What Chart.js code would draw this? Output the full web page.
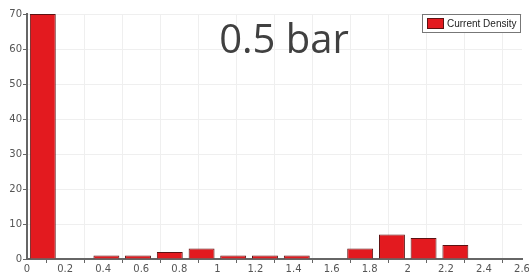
<!DOCTYPE html>
<html lang="en">
<head>
  <meta charset="UTF-8">
  <title>0.5 bar</title>
  <script src="https://cdn.jsdelivr.net/npm/chart.js"></script>
  <style>
    html, body { margin: 0; background: #fff; }
    #wrap { width: 529px; height: 275px; }
  </style>
</head>
<body>
  <div id="wrap"><canvas id="histCanvas"></canvas></div>
  <script>
    const chartTitle = '0.5 bar';
    const seriesLabel = 'Current Density';
    // bin centres (bin width 1/6)
    const binCenters = [0.083, 0.25, 0.417, 0.583, 0.75, 0.917, 1.083, 1.25, 1.417, 1.583, 1.75, 1.917, 2.083, 2.25, 2.417, 2.583];
    const counts     = [70, 0, 1, 1, 2, 3, 1, 1, 1, 0, 3, 7, 6, 4, 0, 0];

    const xMin = 0, xMax = 2.6, xStep = 0.2;
    const yMin = 0, yMax = 70, yStep = 10;

    const barFill = '#e31a1f';
    const barEdge = '#5c1212';

    // big centred title + boxed legend drawn on top
    const overlay = {
      id: 'overlay',
      afterDraw(chart) {
        const c = chart.ctx;
        c.save();
        c.fillStyle = '#404040';
        c.font = '40px "Open Sans", sans-serif';
        c.textAlign = 'center';
        c.textBaseline = 'alphabetic';
        c.fillText(chartTitle, 284, 53);

        c.fillStyle = '#fff';
        c.fillRect(422.5, 14.5, 98, 18);
        c.strokeStyle = '#777';
        c.lineWidth = 1;
        c.strokeRect(422.5, 14.5, 98, 18);
        c.fillStyle = barFill;
        c.fillRect(427, 18, 17, 11);
        c.strokeStyle = barEdge;
        c.strokeRect(427.5, 18.5, 16, 10);
        c.fillStyle = '#222';
        c.font = '10px "Liberation Sans", sans-serif';
        c.textAlign = 'left';
        c.textBaseline = 'middle';
        c.fillText(seriesLabel, 447, 24);
        c.restore();
      }
    };

    const ctx = document.getElementById('histCanvas').getContext('2d');
    new Chart(ctx, {
      type: 'bar',
      data: {
        datasets: [{
          label: seriesLabel,
          data: binCenters.map((x, i) => ({ x, y: counts[i] })),
          backgroundColor: barFill,
          borderColor: barEdge,
          borderWidth: 1,
          categoryPercentage: 1,
          barPercentage: 0.82
        }]
      },
      options: {
        animation: false,
        responsive: true,
        maintainAspectRatio: false,
        layout: { padding: { top: 14, right: 7, left: 0, bottom: 0 } },
        plugins: {
          legend: { display: false },
          tooltip: { enabled: false }
        },
        scales: {
          x: {
            type: 'linear',
            min: xMin,
            max: xMax,
            offset: false,
            ticks: {
              stepSize: xStep,
              color: '#555',
              font: { family: 'DejaVu Sans', size: 10 },
              padding: 0,
              maxRotation: 0,
              autoSkip: false,
              callback: v => String(Math.round(v * 10) / 10)
            },
            grid: { color: '#efefef', tickColor: '#666', tickLength: 4 },
            border: { color: '#666', width: 2 },
            afterFit(s) { s.height = 16; s.paddingLeft = 0; s.paddingRight = 0; }
          },
          y: {
            min: yMin,
            max: yMax,
            ticks: {
              stepSize: yStep,
              color: '#555',
              font: { family: 'DejaVu Sans', size: 10 },
              padding: 1
            },
            grid: { color: '#efefef', tickColor: '#666', tickLength: 4 },
            border: { color: '#666', width: 2 },
            afterFit(s) { s.width = 27; s.paddingTop = 0; s.paddingBottom = 0; }
          }
        }
      },
      plugins: [overlay]
    });
  </script>
</body>
</html>
